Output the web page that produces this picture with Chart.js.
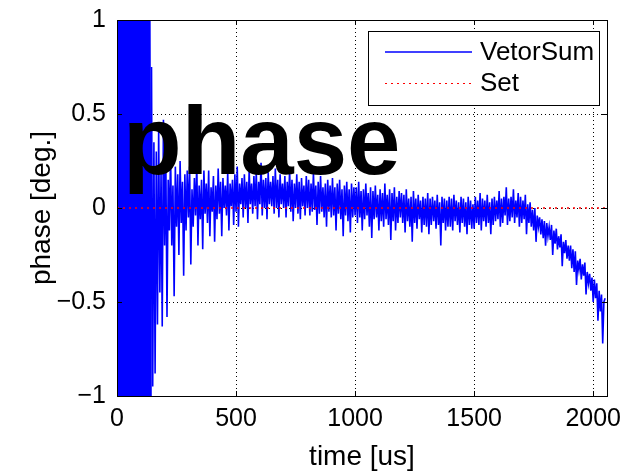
<!DOCTYPE html>
<html>
<head>
<meta charset="utf-8">
<script src="https://cdn.jsdelivr.net/npm/chart.js@4"></script>
<style>
  html, body { margin: 0; padding: 0; background: #fff; }
  #wrap { width: 625px; height: 471px; }
</style>
</head>
<body>
<div id="wrap"><canvas id="phase-chart"></canvas></div>
<script>
const sampleStepUs = 5;
const vectorSumPhase = [
  0, 2.5, -2.7, 2.3, -2.6, 2.8, -2.4, 2.6, -2.5, 2.4, -2.8, 2.6, -2.3, 2.5, -2.6, 2.2, -2.5, 2.7, -2.4, 2.3,
  -2.2, 2.4, -2.0, 2.1, -1.9, 1.8, -1.7, 1.05, -1.2, 0.75, -0.95, 0.35, -0.88, 0.3, -0.62, 0.42, -0.45, 0.2, -0.63, 0.47,
  -0.2, 0.28, -0.58, 0.15, -0.12, 0.3, -0.2, 0.12, -0.47, 0.22, -0.1, 0.18, -0.25, 0.25, -0.08, 0.14, -0.36, 0.18, -0.12, 0.2,
  -0.05, 0.22, -0.3, 0.1, -0.1, 0.16, -0.04, 0.24, -0.2, 0.12, -0.06, 0.15, -0.22, 0.2, -0.03, 0.13, -0.08, 0.2, -0.15, 0.11,
  -0.02, 0.17, -0.18, 0.12, -0.06, 0.21, -0.03, 0.14, -0.15, 0.16, 0.0, 0.12, -0.04, 0.19, -0.12, 0.13, 0.01, 0.15, -0.09, 0.18,
  -0.02, 0.22, -0.1, 0.13, 0.02, 0.16, -0.05, 0.18, 0.0, 0.14, -0.08, 0.2, 0.02, 0.13, -0.03, 0.17, 0.01, 0.19, -0.06, 0.14,
  0.02, 0.24, -0.04, 0.15, 0.0, 0.16, -0.06, 0.19, 0.02, 0.14, 0.01, 0.17, -0.03, 0.21, 0.0, 0.15, -0.05, 0.18, 0.02, 0.13,
  0.0, 0.17, -0.05, 0.14, 0.01, 0.2, -0.02, 0.15, -0.07, 0.13, 0.0, 0.18, -0.03, 0.14, -0.06, 0.16, 0.01, 0.12, -0.04, 0.17,
  0.0, 0.15, -0.04, 0.13, -0.02, 0.19, -0.01, 0.12, -0.09, 0.14, -0.03, 0.17, -0.02, 0.11, -0.05, 0.13, -0.1, 0.15, -0.02, 0.12,
  -0.05, 0.16, -0.04, 0.11, -0.12, 0.13, -0.03, 0.15, -0.06, 0.1, -0.15, 0.12, -0.04, 0.14, -0.07, 0.1, -0.13, 0.13, -0.05, 0.11,
  -0.04, 0.11, -0.08, 0.14, -0.05, 0.09, -0.12, 0.1, -0.06, 0.13, -0.04, 0.08, -0.1, 0.11, -0.16, 0.09, -0.06, 0.12, -0.05, 0.07,
  -0.12, 0.1, -0.07, 0.08, -0.1, 0.13, -0.06, 0.07, -0.09, 0.1, -0.17, 0.08, -0.07, 0.11, -0.12, 0.06, -0.08, 0.09, -0.05, 0.08,
  -0.08, 0.07, -0.13, 0.1, -0.07, 0.05, -0.1, 0.06, -0.18, 0.09, -0.08, 0.05, -0.11, 0.07, -0.06, 0.04, -0.13, 0.06, -0.09, 0.05,
  -0.1, 0.08, -0.14, 0.05, -0.09, 0.06, -0.07, 0.04, -0.11, 0.07, -0.09, 0.03, -0.2, 0.06, -0.08, 0.05, -0.12, 0.04, -0.1, 0.06,
  -0.1, 0.05, -0.12, 0.07, -0.07, 0.04, -0.09, 0.03, -0.13, 0.06, -0.08, 0.05, -0.1, 0.03, -0.14, 0.06, -0.09, 0.04, -0.11, 0.02,
  -0.11, 0.06, -0.08, 0.04, -0.09, 0.08, -0.12, 0.05, -0.07, 0.04, -0.1, 0.07, -0.08, 0.03, -0.14, 0.05, -0.09, 0.06, -0.07, 0.04,
  -0.06, 0.09, -0.1, 0.05, -0.08, 0.06, -0.04, 0.11, -0.09, 0.05, -0.07, 0.06, -0.05, 0.1, -0.08, 0.04, -0.05, 0.08, -0.1, 0.06,
  -0.08, 0.04, -0.06, 0.07, -0.14, 0.02, -0.08, 0.03, -0.1, -0.01, -0.12, 0.0, -0.18, -0.04, -0.1, -0.05, -0.14, -0.06, -0.16, -0.07,
  -0.2, -0.08, -0.15, -0.1, -0.17, -0.09, -0.25, -0.12, -0.19, -0.11, -0.22, -0.15, -0.21, -0.14, -0.31, -0.18, -0.24, -0.17, -0.27, -0.2,
  -0.28, -0.2, -0.32, -0.22, -0.34, -0.23, -0.41, -0.28, -0.33, -0.27, -0.38, -0.3, -0.36, -0.29, -0.46, -0.34, -0.4, -0.35, -0.44, -0.37,
  -0.5, -0.38, -0.48, -0.4, -0.6, -0.44, -0.55, -0.46, -0.72, -0.5, -0.48
];
const setTimes = [0, 2058];
const setPhase = [0, 0];
const xRange = [0, 2058];
const yRange = [-1, 1];
const xTicks = [0, 500, 1000, 1500, 2000];
const yTicks = [-1, -0.5, 0, 0.5, 1];
const seriesNames = ['VetorSum', 'Set'];
const overlayText = 'phase';

const FONT = '"Liberation Sans", Arial, sans-serif';
const BLUE = '#0000ff';
const RED = '#ff0000';

const vectorPoints = vectorSumPhase.map((v, i) => ({ x: i * sampleStepUs, y: v }));
const setPoints = setTimes.map((t, i) => ({ x: t, y: setPhase[i] }));

function fmtTick(v) {
  return v < 0 ? '\u2212' + Math.abs(v) : String(v);
}

// the saturated start swings past both limits; draw those segments wider so they read as solid
function segWidth(c) {
  const a = c.p0.parsed.y, b = c.p1.parsed.y;
  return (Math.abs(a) > 1 && Math.abs(b) > 1) ? 3 : 1.6;
}

// box, inward ticks, legend and the big overlay word
const decorations = {
  id: 'decorations',
  afterDraw(chart) {
    const { ctx, chartArea: a, scales } = chart;
    ctx.save();
    ctx.strokeStyle = '#000';
    ctx.lineWidth = 1;
    ctx.setLineDash([]);
    ctx.strokeRect(Math.round(a.left) + 0.5, Math.round(a.top) + 0.5,
      Math.round(a.right - a.left), Math.round(a.bottom - a.top));

    ctx.beginPath();
    xTicks.forEach(t => {
      const px = Math.round(scales.x.getPixelForValue(t)) + 0.5;
      ctx.moveTo(px, a.bottom); ctx.lineTo(px, a.bottom - 5);
      ctx.moveTo(px, a.top); ctx.lineTo(px, a.top + 5);
    });
    yTicks.forEach(t => {
      const py = Math.round(scales.y.getPixelForValue(t)) + 0.5;
      ctx.moveTo(a.left, py); ctx.lineTo(a.left + 5, py);
      ctx.moveTo(a.right, py); ctx.lineTo(a.right - 5, py);
    });
    ctx.stroke();

    // legend
    const lx = 368, ly = 31, lw = 231, lh = 74;
    ctx.fillStyle = '#fff';
    ctx.fillRect(lx, ly, lw, lh);
    ctx.strokeStyle = '#000';
    ctx.strokeRect(lx + 0.5, ly + 0.5, lw, lh);
    ctx.lineWidth = 1.5;
    ctx.strokeStyle = BLUE;
    ctx.beginPath(); ctx.moveTo(385, 52); ctx.lineTo(472, 52); ctx.stroke();
    ctx.lineWidth = 1;
    ctx.strokeStyle = RED;
    ctx.setLineDash([2, 4]);
    ctx.beginPath(); ctx.moveTo(385, 83.5); ctx.lineTo(472, 83.5); ctx.stroke();
    ctx.setLineDash([]);
    ctx.fillStyle = '#000';
    ctx.font = '26px ' + FONT;
    ctx.textBaseline = 'middle';
    ctx.textAlign = 'left';
    ctx.fillText(seriesNames[0], 480, 53);
    ctx.fillText(seriesNames[1], 480, 84);

    ctx.font = 'bold 96px ' + FONT;
    ctx.textBaseline = 'alphabetic';
    ctx.fillText(overlayText, 123, 174);
    ctx.restore();
  }
};

const ctx = document.getElementById('phase-chart').getContext('2d');
const chart = new Chart(ctx, {
  type: 'line',
  data: {
    datasets: [
      {
        label: seriesNames[0],
        data: vectorPoints,
        borderColor: BLUE,
        borderWidth: 1.6,
        segment: { borderWidth: segWidth },
        pointRadius: 0,
        tension: 0,
        order: 1,
      },
      {
        label: seriesNames[1],
        data: setPoints,
        borderColor: RED,
        borderWidth: 1.5,
        borderDash: [2, 4],
        pointRadius: 0,
        order: -1,
      },
    ],
  },
  options: {
    responsive: true,
    maintainAspectRatio: false,
    animation: false,
    layout: { padding: { top: 20, right: 18, left: 0, bottom: 0 } },
    plugins: { legend: { display: false }, tooltip: { enabled: false } },
    scales: {
      x: {
        type: 'linear',
        min: xRange[0],
        max: xRange[1],
        afterBuildTicks: s => { s.ticks = xTicks.map(v => ({ value: v })); },
        afterFit: s => { s.height = 75; s.paddingLeft = 0; s.paddingRight = 0; },
        grid: { color: '#000', drawTicks: false },
        border: { display: false, dash: [1, 3] },
        ticks: { color: '#000', padding: 8, maxRotation: 0, callback: fmtTick, font: { family: FONT, size: 25 } },
        title: {
          display: true, text: 'time [us]', color: '#000',
          padding: { top: 0, bottom: 0 },
          font: { family: FONT, size: 28, lineHeight: 1 },
        },
      },
      y: {
        min: yRange[0],
        max: yRange[1],
        afterBuildTicks: s => { s.ticks = yTicks.map(v => ({ value: v })); },
        afterFit: s => { s.width = 117; s.paddingTop = 0; s.paddingBottom = 0; },
        grid: { color: '#000', drawTicks: false },
        border: { display: false, dash: [1, 3] },
        ticks: { color: '#000', padding: 11, callback: fmtTick, font: { family: FONT, size: 25 } },
        title: {
          display: true, text: 'phase [deg.]', color: '#000',
          padding: { top: 28, bottom: 0 },
          font: { family: FONT, size: 28, lineHeight: 1 },
        },
      },
    },
  },
  plugins: [decorations],
});
</script>
</body>
</html>
